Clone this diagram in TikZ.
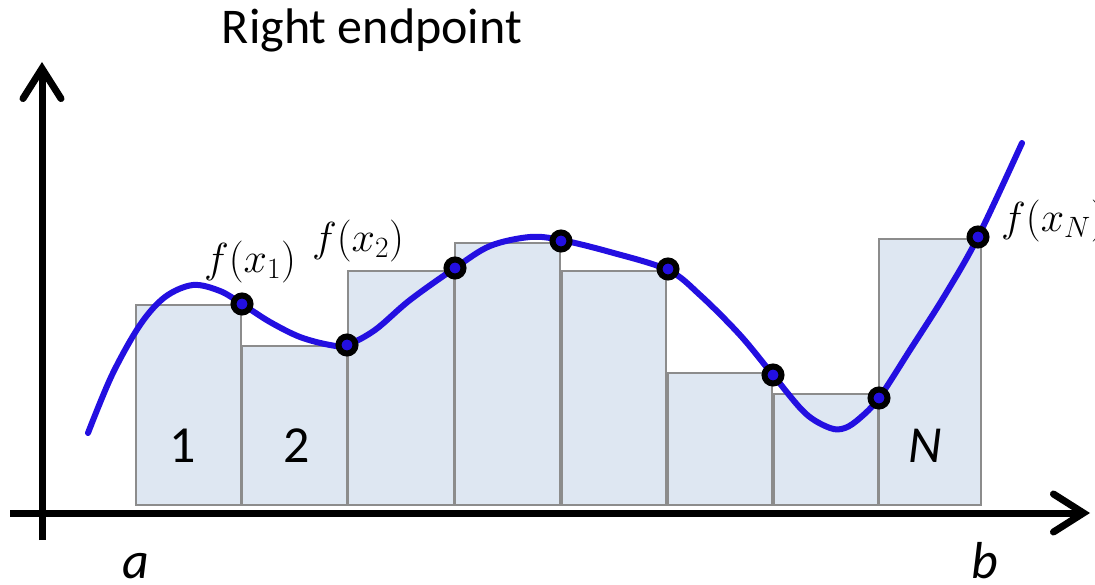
\documentclass[tikz,border=0pt]{standalone}
\usepackage{fix-cm}
\usepackage{fontspec}
\setmainfont{Carlito}
\usetikzlibrary{arrows.meta}
\definecolor{barfill}{RGB}{222,231,242}
\definecolor{bargray}{RGB}{140,140,140}
\definecolor{curveblue}{RGB}{35,15,225}
\tikzset{
  bar/.style={fill=barfill, draw=bargray, line width=1.6pt},
  axis/.style={line width=7pt, -{Straight Barb[length=30pt,width=38pt,line cap=round]}},
  curve/.style={draw=curveblue, line width=6pt, line cap=round},
  dot/.style={circle, draw=black, fill=curveblue, line width=6pt, minimum size=17pt, inner sep=0pt},
  bigtxt/.style={font=\fontsize{52}{60}\selectfont, inner sep=0pt, anchor=base},
  title/.style={font=\fontsize{50}{60}\selectfont, inner sep=0pt, anchor=base},
  flabel/.style={font=\fontsize{42}{50}\selectfont, inner sep=0pt}
}
\begin{document}
\begin{tikzpicture}[x=1pt,y=-1pt]
\useasboundingbox (0,0) rectangle (1095,585);
% bars
\path[bar] (136,505) rectangle (241,305);
\path[bar] (242,505) rectangle (347,346);
\path[bar] (348,505) rectangle (454,271);
\path[bar] (455,505) rectangle (560,243);
\path[bar] (562,505) rectangle (666,271);
\path[bar] (668,505) rectangle (772,373);
\path[bar] (774,505) rectangle (878,394);
\path[bar] (879,505) rectangle (981,239);
% axes
\coordinate (xs) at (10,513);
\coordinate (xe) at (1090,513);
\coordinate (ys) at (42,540);
\coordinate (ye) at (42,62);
\draw[axis] (xs) -- (xe);
\draw[axis] (ys) -- (ye);
% curve
\draw[curve] plot[smooth, tension=0.55] coordinates {
 (88,433) (112,375) (140,325) (165,297) (193,285) (220,291) (242,304)
 (270,322) (300,337) (330,345) (347,345) (375,330) (410,300) (455,268)
 (490,246) (530,237) (561,240) (610,252) (668,270) (700,295) (740,335)
 (773,375) (805,413) (830,428) (845,428) (860,418) (879,398) (910,350)
 (945,295) (978,237) (1022,143)};
% dots
\node[dot] (p1) at (242,304) {};
\node[dot] (p2) at (347,345) {};
\node[dot] (p3) at (455,268) {};
\node[dot] (p4) at (561,241) {};
\node[dot] (p5) at (668,269) {};
\node[dot] (p6) at (773,375) {};
\node[dot] (p7) at (879,398) {};
\node[dot] (p8) at (978,237) {};
% labels
\node[title] (t) at (372,44) {Right endpoint};
\node[bigtxt] (l1) at (183,462) {1};
\node[bigtxt] (l2) at (297,462) {2};
\node[bigtxt] (lN) at (925,462) {\itshape N};
\node[bigtxt] (la) at (136,578) {\itshape a};
\node[bigtxt] (lb) at (985,578) {\itshape b};
\node[flabel] (f1) at (250,262) {$f(x_1)$};
\node[flabel] (f2) at (358,241) {$f(x_2)$};
\node[flabel, anchor=west] (fN) at (1001,221) {$f(x_N)$};
\end{tikzpicture}
\end{document}
